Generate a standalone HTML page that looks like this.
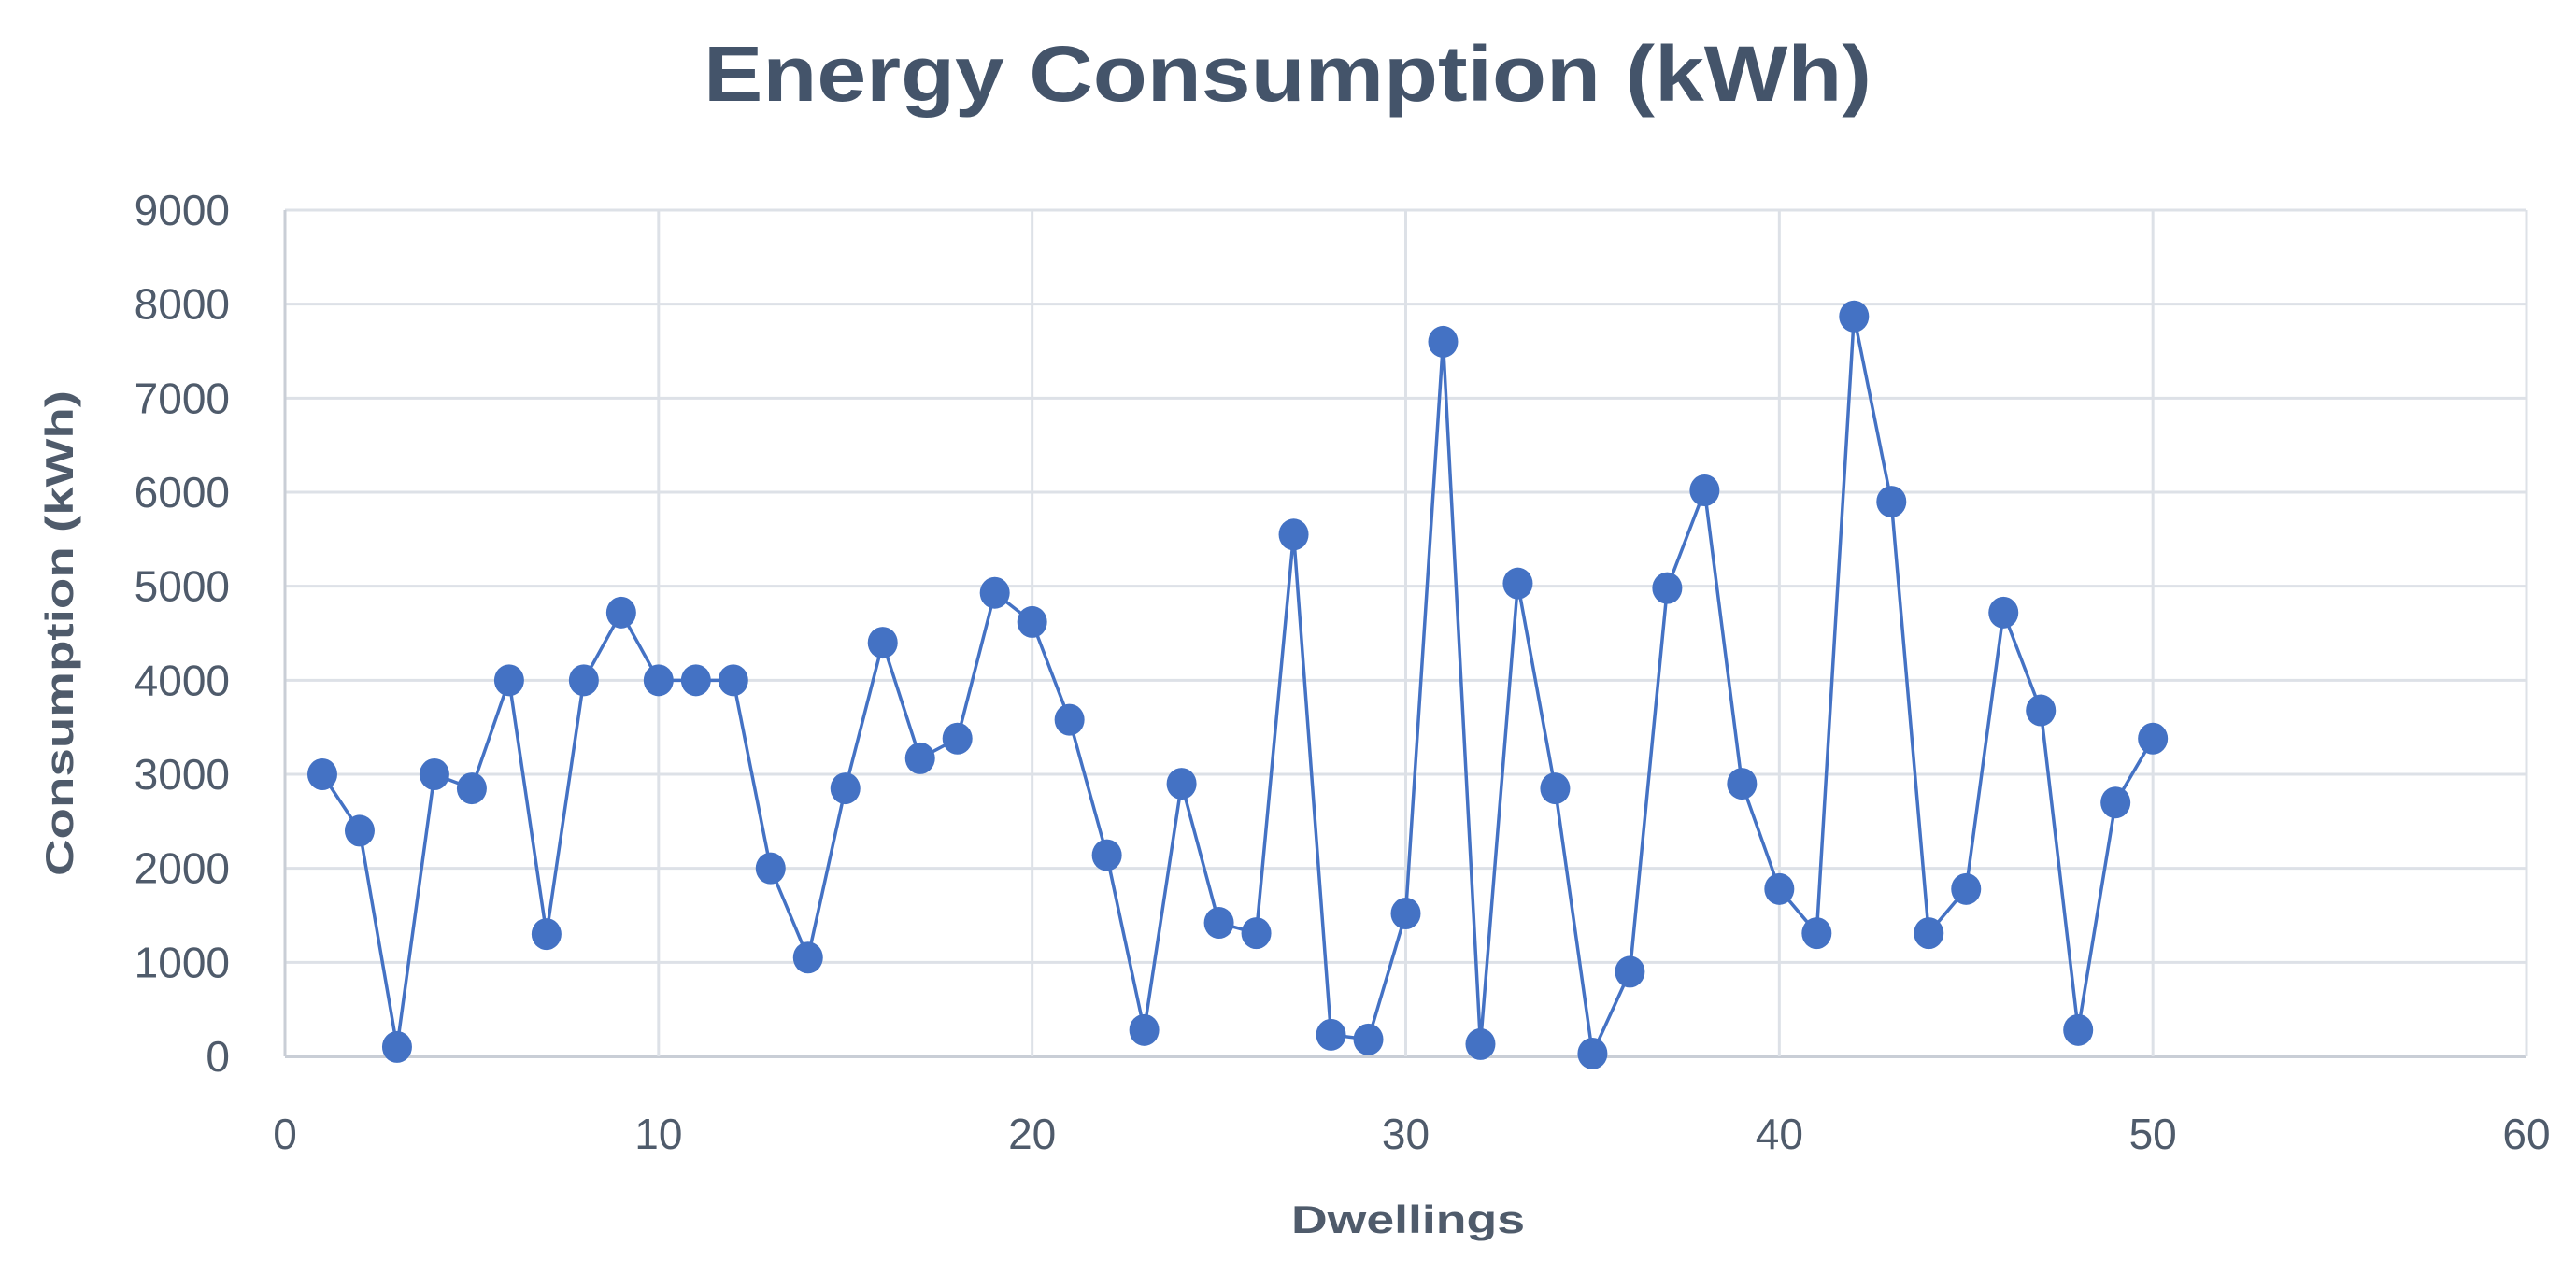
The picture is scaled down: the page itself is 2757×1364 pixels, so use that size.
<!DOCTYPE html>
<html><head><meta charset="utf-8"><style>
html,body{margin:0;padding:0;background:#fff;}
svg{display:block;font-family:"Liberation Sans",sans-serif;}
</style></head><body>
<svg id="chart" width="2757" height="1364" viewBox="0 0 2757 1364" xmlns="http://www.w3.org/2000/svg">
<rect width="2757" height="1364" fill="#fff"/>
<text x="1378" y="108" text-anchor="middle" font-size="84" font-weight="bold" fill="#44546a" textLength="1250" lengthAdjust="spacingAndGlyphs">Energy Consumption (kWh)</text>
<g id="grid"></g>
<g id="ticks"></g>
<g id="series"></g>
<text transform="translate(78,678) rotate(-90)" text-anchor="middle" font-size="42" font-weight="bold" fill="#4f5b6b" textLength="520" lengthAdjust="spacingAndGlyphs">Consumption (kWh)</text>
<text x="1507" y="1320" text-anchor="middle" font-size="42" font-weight="bold" fill="#4f5b6b" textLength="250" lengthAdjust="spacingAndGlyphs">Dwellings</text>
</svg>
<script>
const dwellings = [1,2,3,4,5,6,7,8,9,10,11,12,13,14,15,16,17,18,19,20,21,22,23,24,25,26,27,28,29,30,31,32,33,34,35,36,37,38,39,40,41,42,43,44,45,46,47,48,49,50];
const consumption = [3000,2400,100,3000,2850,4000,1300,4000,4720,4000,4000,4000,2000,1050,2850,4400,3170,3380,4930,4620,3580,2140,280,2900,1420,1310,5550,230,180,1520,7600,130,5030,2850,30,900,4980,6020,2900,1780,1310,7870,5900,1310,1780,4720,3680,280,2700,3380];
const yTicks = [0,1000,2000,3000,4000,5000,6000,7000,8000,9000];
const xTicks = [0,10,20,30,40,50,60];

const X0=305,X1=2704,Y0=1131,Y1=225;
function sx(v){return X0+(v-0)/(60-0)*(X1-X0);}
function sy(v){return Y0-(v-0)/(9000-0)*(Y0-Y1);}
const NS="http://www.w3.org/2000/svg";
function mk(tag,attrs,parent){const e=document.createElementNS(NS,tag);for(const k in attrs)e.setAttribute(k,attrs[k]);parent.appendChild(e);return e;}
const grid=document.getElementById('grid'),ticks=document.getElementById('ticks'),series=document.getElementById('series');

yTicks.forEach(v=>{
  const l=mk('line',{x1:X0,x2:X1,y1:sy(v),y2:sy(v),stroke:v===0?'#c9ced6':'#dde1e7','stroke-width':v===0?4:3},grid);
  
  
  const t=mk('text',{x:246,y:sy(v)+16,'text-anchor':'end','font-size':46,fill:'#4f5b6b'},ticks);
  t.textContent=v;
  
  
});
xTicks.forEach(v=>{
  const l=mk('line',{x1:sx(v),x2:sx(v),y1:Y1,y2:Y0,stroke:v===0?'#c9ced6':'#dde1e7','stroke-width':3},grid);
  
  
  const t=mk('text',{x:sx(v),y:1230,'text-anchor':'middle','font-size':46,fill:'#4f5b6b'},ticks);
  t.textContent=v;
  
  
});
const pts=dwellings.map((d,i)=>sx(d)+','+sy(consumption[i])).join(' ');
const pl=mk('polyline',{points:pts,fill:'none',stroke:'#4472c4','stroke-width':3.5},series);


dwellings.forEach((d,i)=>{
  const c=mk('ellipse',{cx:sx(d),cy:sy(consumption[i]),rx:16,ry:17,fill:'#4472c4'},series);
  
  
});
</script>
</body></html>
